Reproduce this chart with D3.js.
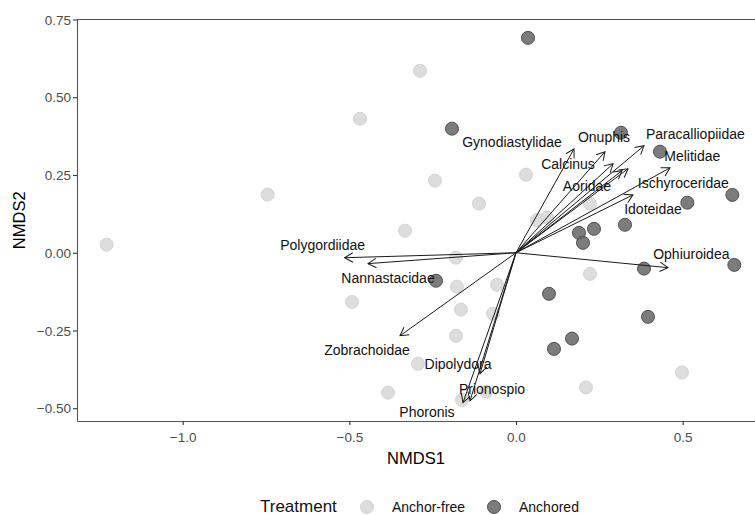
<!DOCTYPE html>
<html>
<head>
<meta charset="utf-8">
<script src="https://cdn.jsdelivr.net/npm/d3@7"></script>
<style>
  body { margin: 0; background: #fff; }
  svg { font-family: "Liberation Sans", Arial, sans-serif; }
</style>
</head>
<body>
<svg id="chart" width="755" height="515"></svg>
<script>
// site scores
const freeX = [-1.228, -0.745, -0.468, -0.288, -0.243, -0.333, -0.111, 0.030, 0.222, 0.063, 0.093,
  0.222, -0.057, -0.069, 0.498, 0.210, -0.090, -0.180, -0.177, -0.492, -0.165, -0.180, -0.294, -0.384, -0.162];
const freeY = [0.026, 0.187, 0.431, 0.585, 0.232, 0.071, 0.158, 0.251, 0.158, 0.105, 0.113,
  -0.068, -0.103, -0.196, -0.385, -0.433, -0.447, -0.016, -0.109, -0.158, -0.183, -0.267, -0.357, -0.450, -0.473];

const anchX = [0.036, -0.192, 0.315, 0.432, 0.649, 0.514, 0.327, 0.234, 0.189, 0.201,
  0.384, 0.655, 0.099, 0.396, 0.168, 0.114, -0.240];
const anchY = [0.691, 0.399, 0.386, 0.325, 0.186, 0.161, 0.090, 0.077, 0.064, 0.032,
  -0.051, -0.039, -0.132, -0.206, -0.276, -0.309, -0.090];

// species vectors (arrow tips) and label positions
const taxa = ["Gynodiastylidae", "Onuphis", "Calcinus", "Paracalliopiidae", "Melitidae", "Aoridae",
  "Ischyroceridae", "Idoteidae", "Ophiuroidea", "Polygordiidae", "Nannastacidae", "Zobrachoidae",
  "Dipolydora", "Prionospio", "Phoronis"];
const vecX = [0.174, 0.267, 0.291, 0.384, 0.462, 0.318, 0.336, 0.351, 0.456, -0.514, -0.444, -0.348, -0.108, -0.138, -0.159];
const vecY = [0.334, 0.325, 0.286, 0.344, 0.273, 0.264, 0.270, 0.186, -0.048, -0.016, -0.035, -0.267, -0.389, -0.476, -0.482];
const labX = [-0.012, 0.264, 0.156, 0.538, 0.529, 0.213, 0.502, 0.411, 0.526, -0.580, -0.384, -0.447, -0.174, -0.072, -0.267];
const labY = [0.357, 0.373, 0.286, 0.383, 0.312, 0.215, 0.225, 0.141, -0.003, 0.026, -0.080, -0.312, -0.357, -0.437, -0.511];

const xTicks = [-1.0, -0.5, 0.0, 0.5];
const yTicks = [-0.50, -0.25, 0.00, 0.25, 0.50, 0.75];
const groups = ["Anchor-free", "Anchored"];

const svg = d3.select("#chart");
const pLeft = 77, pRight = 755, pTop = 19.5, pBottom = 421;

const x = d3.scaleLinear().domain([-1.317, 0.717]).range([pLeft, pRight]);
const y = d3.scaleLinear().domain([-0.541, 0.75]).range([pBottom, pTop]);

const fillCol = { "Anchor-free": "#d9d9d9", "Anchored": "#6e6e6e" };
const strokeCol = { "Anchor-free": "#d3d3d3", "Anchored": "#505050" };

// axes
const xAxis = svg.append("g").attr("transform", `translate(0,${pBottom})`)
  .call(d3.axisBottom(x).tickValues(xTicks).tickFormat(d3.format(".1f")).tickSize(4).tickSizeOuter(0));
const yAxis = svg.append("g").attr("transform", `translate(${pLeft},0)`)
  .call(d3.axisLeft(y).tickValues(yTicks).tickFormat(d3.format(".2f")).tickSize(4).tickSizeOuter(0));

[xAxis, yAxis].forEach(a => {
  a.select(".domain").attr("stroke", "#555").attr("stroke-width", 1.1);
  a.selectAll(".tick line").attr("stroke", "#333").attr("stroke-width", 1.1);
  a.selectAll(".tick text").attr("fill", "#4d4d4d").attr("font-size", 13.5)
    .style("font-family", "Liberation Sans, Arial, sans-serif");
});
xAxis.selectAll(".tick text").attr("dy", "1.05em");
yAxis.selectAll(".tick text").attr("dy", "0.35em").attr("x", -6);

// top border
svg.append("line").attr("x1", pLeft).attr("x2", pRight).attr("y1", pTop).attr("y2", pTop)
  .attr("stroke", "#555").attr("stroke-width", 1.1);

// axis titles
svg.append("text").attr("x", (pLeft + pRight) / 2).attr("y", 464).attr("text-anchor", "middle")
  .attr("font-size", 16.5).text("NMDS1");
svg.append("text").attr("transform", `translate(25,${(pTop + pBottom) / 2}) rotate(-90)`)
  .attr("text-anchor", "middle").attr("font-size", 16.5).text("NMDS2");

// points
function drawPoints(xs, ys, grp) {
  svg.append("g").selectAll("circle")
    .data(xs.map((v, i) => ({ x: v, y: ys[i] })))
    .enter().append("circle")
    .attr("cx", d => x(d.x)).attr("cy", d => y(d.y)).attr("r", 6.5)
    .attr("fill", fillCol[grp]).attr("fill-opacity", 0.9)
    .attr("stroke", strokeCol[grp]).attr("stroke-width", 1);
}
drawPoints(freeX, freeY, "Anchor-free");
drawPoints(anchX, anchY, "Anchored");

// arrows
svg.append("defs").append("marker")
  .attr("id", "head").attr("markerUnits", "userSpaceOnUse")
  .attr("viewBox", "-10 -6 12 12").attr("refX", 0).attr("refY", 0)
  .attr("markerWidth", 12).attr("markerHeight", 12).attr("orient", "auto")
  .append("path").attr("d", "M-8.2,-4.7L0,0L-8.2,4.7")
  .attr("fill", "none").attr("stroke", "#1a1a1a").attr("stroke-width", 1);

const vecs = taxa.map((t, i) => ({ name: t, x: vecX[i], y: vecY[i], lx: labX[i], ly: labY[i] }));

svg.append("g").selectAll("line").data(vecs).enter().append("line")
  .attr("x1", x(0)).attr("y1", y(0))
  .attr("x2", d => x(d.x)).attr("y2", d => y(d.y))
  .attr("stroke", "#1a1a1a").attr("stroke-width", 1)
  .attr("marker-end", "url(#head)");

svg.append("g").selectAll("text").data(vecs).enter().append("text")
  .attr("x", d => x(d.lx)).attr("y", d => y(d.ly)).attr("dy", "0.35em")
  .attr("text-anchor", "middle").attr("font-size", 14).attr("fill", "#111")
  .text(d => d.name);

// legend
const leg = svg.append("g");
leg.append("text").attr("x", 260).attr("y", 512).attr("font-size", 17).attr("fill", "#111").text("Treatment");
const legX = [367, 494];
groups.forEach((g, i) => {
  leg.append("circle").attr("cx", legX[i]).attr("cy", 507).attr("r", 6.5)
    .attr("fill", fillCol[g]).attr("fill-opacity", 0.9).attr("stroke", strokeCol[g]);
  leg.append("text").attr("x", legX[i] + 25).attr("y", 512).attr("font-size", 14).attr("fill", "#111").text(g);
});
</script>
</body>
</html>
